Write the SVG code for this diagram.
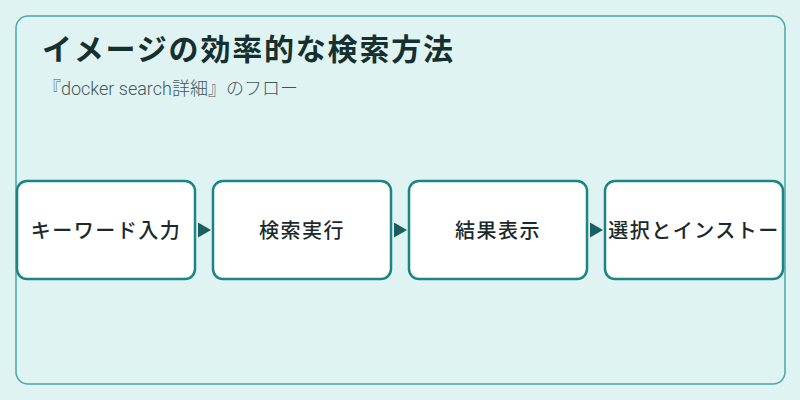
<svg xmlns="http://www.w3.org/2000/svg" width="800" height="400" viewBox="0 0 800 400">
<style>
.node rect{fill:#ffffff;stroke:#1b8585;stroke-width:2.5}
.node text{font-family:"Noto Sans CJK JP","Noto Sans",sans-serif;font-size:20px;font-weight:500;fill:#1a2a2a;text-anchor:middle;letter-spacing:1.5px}
.title{font-family:"Noto Sans CJK JP","Noto Sans",sans-serif;font-size:30px;font-weight:700;fill:#15302e;letter-spacing:1.8px}
.sub{font-family:"Roboto","Noto Sans CJK JP",sans-serif;font-size:18px;font-weight:300;fill:#3f5858}
</style>
<defs>
<marker id="ah" viewBox="0 0 13 15" refX="13" refY="7.5" markerWidth="13" markerHeight="15" markerUnits="userSpaceOnUse" orient="auto">
<path d="M0,0 L13,7.5 L0,15 Z" fill="#1a5e5e"/>
</marker>
</defs>
<rect width="800" height="400" fill="#dff3f2"/>
<rect x="16" y="16" width="769" height="368" rx="12" fill="none" stroke="#4aa8a8" stroke-width="1.5"/>
<text class="title" x="42" y="60">イメージの効率的な検索方法</text>
<text class="sub" x="43" y="95">『docker search詳細』のフロー</text>
<g id="connectors">
<path d="M197,230 L211,230" stroke="none" fill="none" marker-end="url(#ah)"/>
<path d="M393,230 L407,230" stroke="none" fill="none" marker-end="url(#ah)"/>
<path d="M589,230 L603,230" stroke="none" fill="none" marker-end="url(#ah)"/>
</g>
<g id="n1" class="node"><rect x="17" y="181" width="178" height="98" rx="10"/><text x="106" y="238">キーワード入力</text></g>
<g id="n2" class="node"><rect x="213" y="181" width="178" height="98" rx="10"/><text x="302" y="238">検索実行</text></g>
<g id="n3" class="node"><rect x="409" y="181" width="178" height="98" rx="10"/><text x="498" y="238">結果表示</text></g>
<g id="n4" class="node"><rect x="605" y="181" width="178" height="98" rx="10"/><text x="694" y="238">選択とインストー</text></g>
</svg>
